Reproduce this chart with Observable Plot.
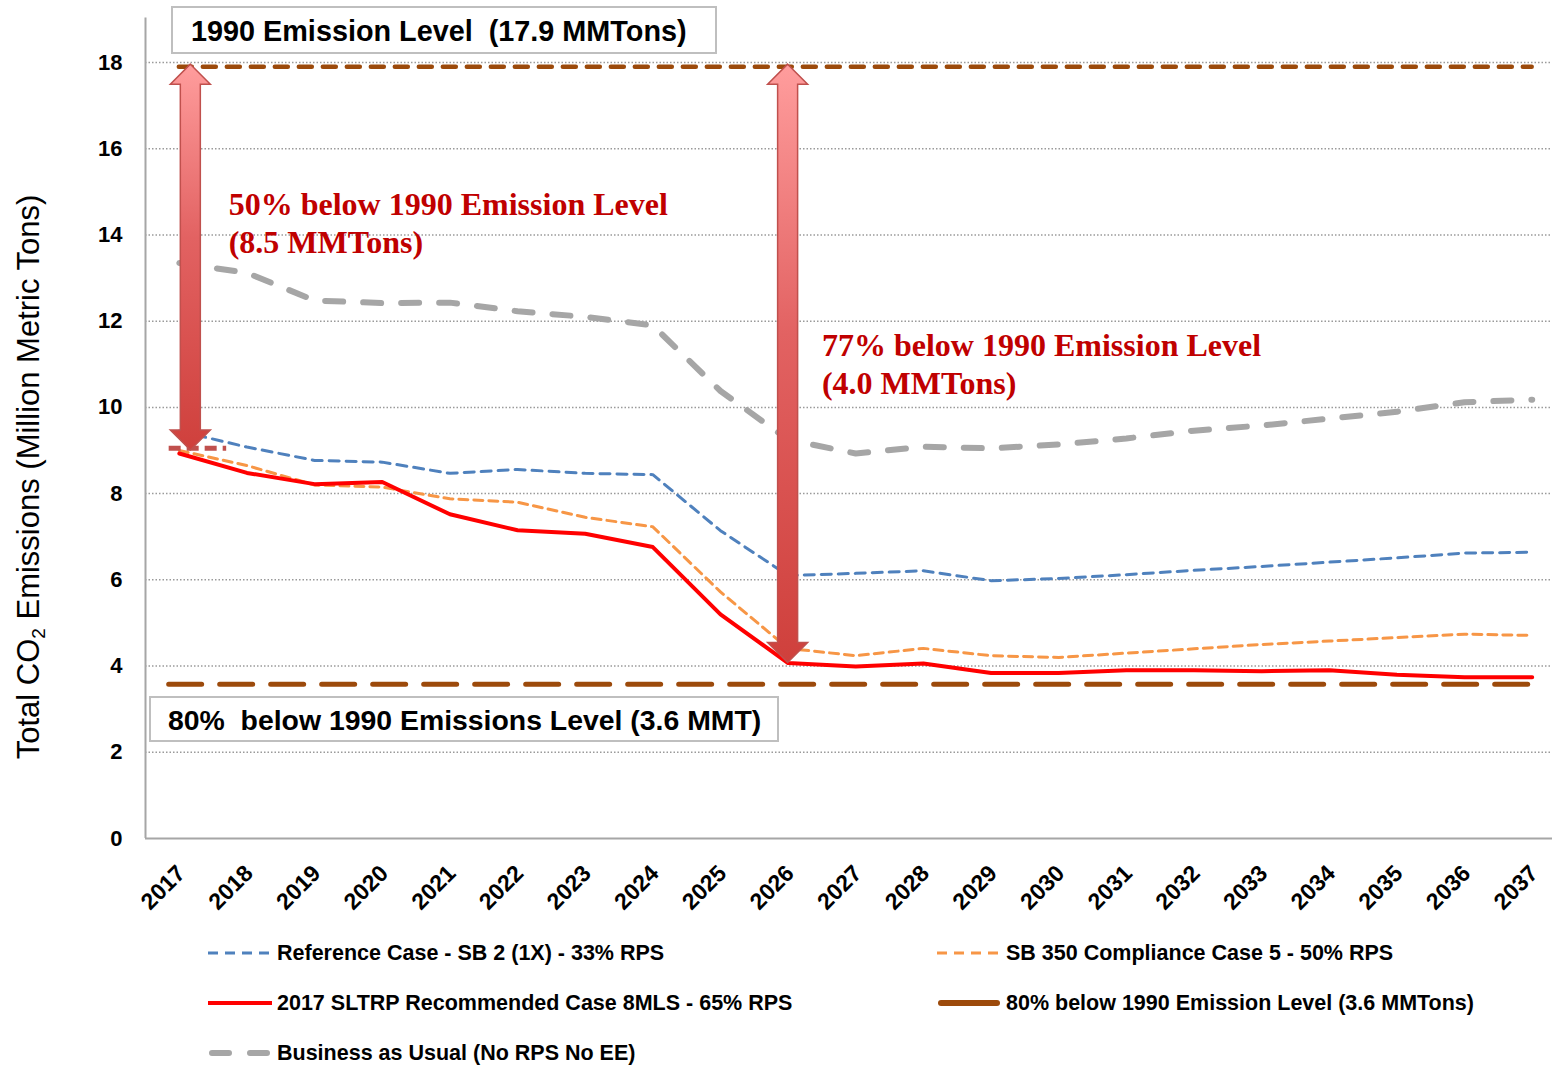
<!DOCTYPE html>
<html>
<head>
<meta charset="utf-8">
<script src="https://cdn.jsdelivr.net/npm/d3@7"></script>
<script src="https://cdn.jsdelivr.net/npm/@observablehq/plot@0.6"></script>
<style>
  body { margin: 0; background: #fff; font-family: "Liberation Sans", Arial, sans-serif; }
  #wrap { position: relative; width: 1552px; height: 1066px; background: #fff; }
  #wrap svg { display: block; }
  .leg { position: absolute; display: flex; align-items: center; font-weight: bold; font-size: 21.5px; color: #000; white-space: pre; height: 24px; }
  .leg svg { margin-right: 5px; }
</style>
</head>
<body>
<div id="wrap"></div>
<script>
// ---------------- data ----------------
const years = [2017, 2018, 2019, 2020, 2021, 2022, 2023, 2024, 2025, 2026, 2027,
               2028, 2029, 2030, 2031, 2032, 2033, 2034, 2035, 2036, 2037];

const referenceCase = [9.45, 9.08, 8.77, 8.73, 8.47, 8.56, 8.47, 8.44, 7.14, 6.10, 6.15,
                       6.21, 5.98, 6.03, 6.12, 6.22, 6.31, 6.41, 6.51, 6.62, 6.64];
const sb350Case     = [9.00, 8.65, 8.20, 8.15, 7.88, 7.80, 7.45, 7.23, 5.72, 4.41, 4.24,
                       4.41, 4.24, 4.20, 4.30, 4.40, 4.50, 4.58, 4.66, 4.74, 4.71];
const sltrpCase     = [8.93, 8.48, 8.22, 8.27, 7.52, 7.15, 7.07, 6.76, 5.20, 4.07, 3.99,
                       4.06, 3.84, 3.84, 3.90, 3.90, 3.88, 3.90, 3.80, 3.74, 3.74];
const bauCase       = [13.35, 13.12, 12.48, 12.42, 12.43, 12.23, 12.10, 11.90, 10.38, 9.25, 8.93,
                       9.09, 9.05, 9.14, 9.28, 9.46, 9.58, 9.74, 9.90, 10.12, 10.18];

const level1990 = 17.9;
const level80 = 3.58;
const marker50 = 9.05;

const yTicks = [0, 2, 4, 6, 8, 10, 12, 14, 16, 18];
const gridValues = [2, 4, 6, 8, 10, 12, 14, 16, 18];

const seriesNames = [
  "Reference Case - SB 2 (1X) - 33% RPS",
  "SB 350 Compliance Case 5 - 50% RPS",
  "2017 SLTRP Recommended Case 8MLS - 65% RPS",
  "80% below 1990 Emission Level (3.6 MMTons)",
  "Business as Usual (No RPS No EE)"
];

const arrowSpans = [
  {year: 2017.17, from: 17.95, to: 9.0},
  {year: 2026, from: 17.95, to: 4.07}
];

const yTitle = ["Total CO", "2", " Emissions (Million Metric Tons)"];
const topBoxText = "1990 Emission Level  (17.9 MMTons)";
const bottomBoxText = "80%  below 1990 Emissions Level (3.6 MMT)";
const note50 = "50% below 1990 Emission Level\n(8.5 MMTons)";
const note77 = "77% below 1990 Emission Level\n(4.0 MMTons)";

// ---------------- styles ----------------
const C = {
  ref: "#4f81bd", sb350: "#f79646", sltrp: "#ff0000", bau: "#a6a6a6",
  brown: "#9c4a0b", arrowStroke: "#c0504d", note: "#c00000", axis: "#a6a6a6", grid: "#9a9a9a"
};
const sansFont = "Liberation Sans, Arial, sans-serif";
const serifFont = "Liberation Serif, Times New Roman, serif";

const toRows = vals => years.map((yr, i) => ({year: yr, value: vals[i]}));

const chart = Plot.plot({
  width: 1552,
  height: 925,
  marginLeft: 145,
  marginRight: 0,
  marginTop: 62,
  marginBottom: 87,
  x: {type: "linear", domain: [2016.5, 2037.3], axis: null},
  y: {domain: [0, 18], axis: null},
  style: {fontFamily: sansFont, background: "#fff", overflow: "visible", color: "#000"},
  marks: [
    Plot.ruleY(gridValues, {stroke: C.grid, strokeWidth: 1.5, strokeDasharray: "1.5,2"}),
    Plot.ruleX([2016.5], {y1: 0, y2: 19.03, stroke: C.axis, strokeWidth: 2}),
    Plot.ruleY([0], {stroke: C.axis, strokeWidth: 2}),
    Plot.line(toRows(bauCase), {x: "year", y: "value", stroke: C.bau, strokeWidth: 6, strokeDasharray: "18,20", strokeLinecap: "round"}),
    Plot.line(toRows(referenceCase), {x: "year", y: "value", stroke: C.ref, strokeWidth: 3, strokeDasharray: "10,7"}),
    Plot.line(toRows(sb350Case), {x: "year", y: "value", stroke: C.sb350, strokeWidth: 3, strokeDasharray: "9,6"}),
    Plot.line(toRows(sltrpCase), {x: "year", y: "value", stroke: C.sltrp, strokeWidth: 4}),
    Plot.ruleY([level1990], {x1: 2017, x2: 2037, stroke: C.brown, strokeWidth: 4.5, strokeDasharray: "13,11", strokeLinecap: "round"}),
    Plot.ruleY([level80], {x1: 2016.85, x2: 2037, stroke: C.brown, strokeWidth: 5, strokeDasharray: "33,18", strokeLinecap: "round"}),
    Plot.ruleY([marker50], {x1: 2016.85, x2: 2017.7, stroke: C.arrowStroke, strokeWidth: 5, strokeDasharray: "12,6"}),
    Plot.text(yTicks, {x: 2016.5, y: d => d, text: d => String(d), textAnchor: "end", dx: -23,
      fontSize: 22, fontWeight: "bold", fill: "#000"}),
    Plot.text(years, {x: d => d, y: 0, text: d => String(d), rotate: -45, textAnchor: "end",
      dx: 2, dy: 31, fontSize: 23, fontWeight: "bold", fill: "#000"}),
    Plot.text([note50], {x: 2017.73, y: 15.08, text: d => d, textAnchor: "start", lineAnchor: "top",
      fontFamily: serifFont, fontWeight: "bold", fontSize: 32, lineHeight: 1.19, fill: C.note}),
    Plot.text([note77], {x: 2026.5, y: 11.82, text: d => d, textAnchor: "start", lineAnchor: "top",
      fontFamily: serifFont, fontWeight: "bold", fontSize: 32, lineHeight: 1.19, fill: C.note})
  ]
});

const xs = chart.scale("x"), ys = chart.scale("y");
const X = v => xs.apply(v), Y = v => ys.apply(v);
const svg = d3.select(chart.tagName.toLowerCase() === "svg" ? chart : chart.querySelector("svg"));

// gradient for arrows
const defs = svg.append("defs");
const grad = defs.append("linearGradient").attr("id", "arrowGrad")
  .attr("x1", 0).attr("y1", 0).attr("x2", 0).attr("y2", 1);
grad.append("stop").attr("offset", "0%").attr("stop-color", "#ff9d9d");
grad.append("stop").attr("offset", "45%").attr("stop-color", "#e26262");
grad.append("stop").attr("offset", "100%").attr("stop-color", "#cf403c");

function arrowPath(xc, yt, yb) {
  const sh = 10, hh = 20, hl = 20;
  return `M${xc},${yt} L${xc + hh},${yt + hl} L${xc + sh},${yt + hl} L${xc + sh},${yb - hl} ` +
         `L${xc + hh},${yb - hl} L${xc},${yb} L${xc - hh},${yb - hl} L${xc - sh},${yb - hl} ` +
         `L${xc - sh},${yt + hl} L${xc - hh},${yt + hl} Z`;
}
arrowSpans.forEach(a => {
  svg.append("path")
    .attr("d", arrowPath(X(a.year), Y(a.from), Y(a.to)))
    .attr("fill", "url(#arrowGrad)")
    .attr("stroke", C.arrowStroke)
    .attr("stroke-width", 1.5)
    .attr("stroke-linejoin", "miter");
});

// boxed labels
function boxLabel(txt, tx, baseline, rect, size) {
  const g = svg.append("g");
  g.append("rect").attr("x", rect[0]).attr("y", rect[1]).attr("width", rect[2]).attr("height", rect[3])
    .attr("fill", "#fff").attr("stroke", "#bfbfbf").attr("stroke-width", 2);
  g.append("text").attr("x", tx).attr("y", baseline)
    .attr("text-anchor", "start")
    .attr("font-family", sansFont).attr("font-weight", "bold").attr("font-size", size)
    .attr("fill", "#000").style("white-space", "pre").attr("xml:space", "preserve")
    .text(txt);
}
const x0 = X(2016.5);
boxLabel(topBoxText, x0 + 46, 41, [x0 + 27, 7, 544, 46], 28.8);
boxLabel(bottomBoxText, x0 + 23, 730, [x0 + 5, 697, 628, 44], 28.4);

// y axis title
const t = svg.append("text")
  .attr("transform", `translate(39, ${(Y(0) + Y(18)) / 2 + 27}) rotate(-90)`)
  .attr("text-anchor", "middle")
  .attr("font-family", sansFont).attr("font-size", 31).attr("fill", "#000");
t.append("tspan").text(yTitle[0]);
t.append("tspan").attr("font-size", 19).attr("dy", 6).text(yTitle[1]);
t.append("tspan").attr("dy", -6).text(yTitle[2]);

document.getElementById("wrap").appendChild(chart);

// ---------------- legend (HTML below the SVG) ----------------
const legendItems = [
  {name: seriesNames[0], color: C.ref, width: 3, dash: "10,7", left: 208, top: 953},
  {name: seriesNames[1], color: C.sb350, width: 3, dash: "10,7", left: 937, top: 953},
  {name: seriesNames[2], color: C.sltrp, width: 4, dash: null, left: 208, top: 1003},
  {name: seriesNames[3], color: C.brown, width: 6, dash: null, left: 937, top: 1003, cap: "round"},
  {name: seriesNames[4], color: C.bau, width: 6, dash: "17,21", left: 208, top: 1053, cap: "round"}
];
const wrap = document.getElementById("wrap");
legendItems.forEach(it => {
  const div = document.createElement("div");
  div.className = "leg";
  div.style.left = it.left + "px";
  div.style.top = (it.top - 12) + "px";
  const sw = d3.create("svg").attr("width", 64).attr("height", 12);
  sw.append("line").attr("x1", it.cap ? 4 : 0).attr("x2", it.cap ? 60 : 64).attr("y1", 6).attr("y2", 6)
    .attr("stroke", it.color).attr("stroke-width", it.width)
    .attr("stroke-dasharray", it.dash)
    .attr("stroke-linecap", it.cap || "butt");
  div.appendChild(sw.node());
  const span = document.createElement("span");
  span.textContent = it.name;
  div.appendChild(span);
  wrap.appendChild(div);
});
</script>
</body>
</html>
